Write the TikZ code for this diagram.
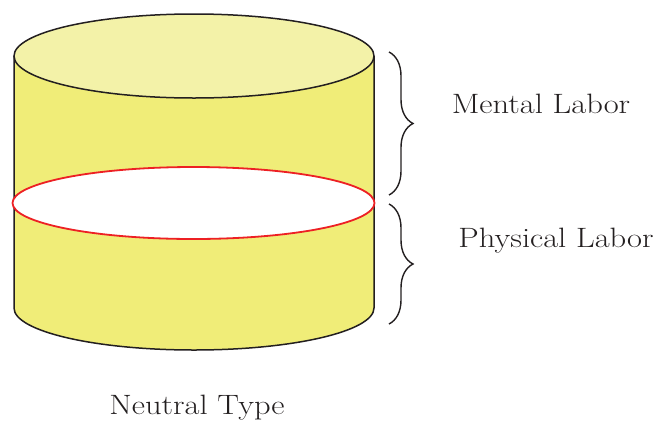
\documentclass[tikz,border=0pt]{standalone}
\usepackage{fontspec}
\usepackage{graphicx}
\usetikzlibrary{decorations.pathreplacing}
\definecolor{bodyyellow}{RGB}{240,237,120}
\definecolor{topyellow}{RGB}{243,242,168}
\definecolor{outline}{RGB}{35,31,32}
\definecolor{ringred}{RGB}{237,32,36}
\newcommand{\widetext}[1]{\scalebox{1.16}[1]{#1}}
\tikzset{
  outl/.style={draw=outline, line width=1.5pt},
  bracestyle/.style={draw=outline, line width=1.4pt, decorate,
    decoration={brace, amplitude=24pt, aspect=0.5}},
  lbl/.style={anchor=base, inner sep=0pt, font=\fontsize{28}{33}\selectfont, text=outline}
}
\begin{document}
\begin{tikzpicture}[x=1pt,y=-1pt]
\useasboundingbox (0,0) rectangle (659,424);
% cylinder body
\path[fill=bodyyellow, outl] (14,56) -- (14,308)
  arc[start angle=180, end angle=0, x radius=180, y radius=42] -- (374,56);
% top ellipse
\path[fill=topyellow, outl] (194,56) ellipse [x radius=180, y radius=42];
% red cut ring
\path[fill=white, draw=ringred, line width=1.8pt] (193.5,203) ellipse [x radius=181, y radius=36];
% braces
\coordinate (b1a) at (389,52);
\coordinate (b1b) at (389,195);
\coordinate (b2a) at (389,204);
\coordinate (b2b) at (389,324);
\draw[bracestyle] (b1a) -- (b1b);
\draw[bracestyle] (b2a) -- (b2b);
% labels
\node[lbl] (mental) at (541,113) {\widetext{Mental Labor}};
\node[lbl] (physical) at (556,247) {\widetext{Physical Labor}};
\node[lbl] (neutral) at (197,414) {\widetext{Neutral Type}};
\end{tikzpicture}
\end{document}
